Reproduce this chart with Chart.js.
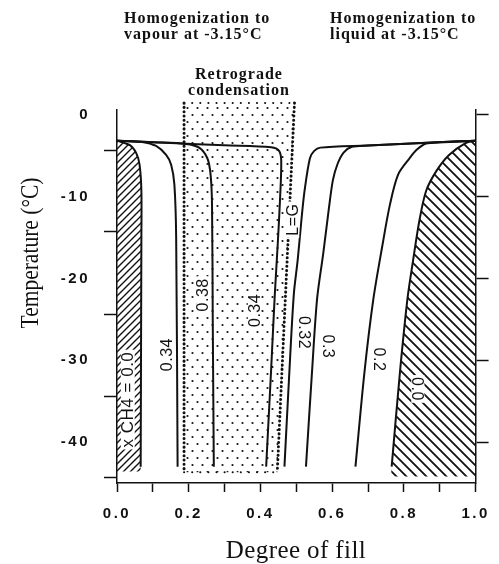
<!DOCTYPE html>
<html>
<head>
<meta charset="utf-8">
<script src="https://cdn.jsdelivr.net/npm/chart.js@4.4.1/dist/chart.umd.min.js"></script>
<style>
  html, body { margin: 0; padding: 0; background: #fff; }
</style>
</head>
<body>
<canvas id="fill" width="499" height="564"></canvas>
<script>
// isopleths of x CH4: [degree of fill, temperature °C]
const isoVap00 = [[0,-3.15],[0.036,-3.7],[0.054,-4.7],[0.063,-6.1],[0.068,-9.3],[0.068,-15],[0.066,-43]];
const isoVap34 = [[0,-3.15],[0.07,-3.3],[0.109,-3.8],[0.137,-4.9],[0.151,-6.1],[0.16,-8.5],[0.165,-15],[0.169,-43]];
const isoRet38 = [[0,-3.15],[0.1,-3.34],[0.192,-3.55],[0.229,-4.0],[0.252,-5.3],[0.261,-7.3],[0.265,-11],[0.267,-25],[0.27,-43]];
const isoRet34 = [[0,-3.15],[0.15,-3.43],[0.3,-3.72],[0.43,-3.96],[0.452,-4.4],[0.458,-5.6],[0.455,-10],[0.448,-16],[0.44,-22],[0.43,-31],[0.416,-43]];
const isoLiq32 = [[1,-3.15],[0.85,-3.44],[0.7,-3.74],[0.567,-4.0],[0.55,-4.4],[0.538,-5.3],[0.523,-9.3],[0.514,-13],[0.504,-17.7],[0.493,-22],[0.48,-32],[0.467,-43]];
const isoLiq30 = [[1,-3.15],[0.85,-3.44],[0.7,-3.74],[0.655,-3.9],[0.632,-4.6],[0.615,-6],[0.602,-8],[0.591,-11.4],[0.575,-17],[0.558,-22.5],[0.543,-32],[0.527,-43]];
const isoLiq20 = [[1,-3.15],[0.9,-3.35],[0.862,-3.5],[0.835,-4.3],[0.816,-5.3],[0.784,-7.3],[0.761,-11],[0.74,-16],[0.715,-22.5],[0.69,-31.5],[0.665,-43]];
const isoLiq00 = [[1,-3.15],[0.972,-3.45],[0.926,-4.9],[0.89,-6.9],[0.862,-9.3],[0.843,-13],[0.825,-18],[0.81,-22.5],[0.789,-31.5],[0.766,-43]];

// retrograde condensation field and the L=G boundary
const retroLeft = [[0.187,1.45],[0.187,-43.7]];
const retroRight = [[0.495,1.45],[0.47,-22],[0.447,-43.7]];
const retroTop = [[0.187,1.45],[0.495,1.45]];
const retroBottom = [[0.187,-43.7],[0.447,-43.7]];

// closing corners of the two x CH4 = 0.0 fields
const vapourFieldFoot = [[0.066,-43.6],[0,-43.6]];
const liquidFieldFoot = [[0.764,-44.2],[1,-44.2]];

const fillTicks = [0,0.1,0.2,0.3,0.4,0.5,0.6,0.7,0.8,0.9,1.0];
const tempTicks = [0,-10,-20,-30,-40];
const tempMarks = [-4.3,-14.3,-24.4,-34.4,-44.3];

const curveNotes = [
  {text: 'x CH4 = 0.0', x: 0.030, t: -34.8, turn: -1, size: 17},
  {text: '0.34', x: 0.139, t: -29.3, turn: -1, size: 16},
  {text: '0.38', x: 0.240, t: -22.0, turn: -1, size: 16},
  {text: '0.34', x: 0.383, t: -23.9, turn: -1, size: 16},
  {text: 'L=G', x: 0.490, t: -12.8, turn: -1, size: 16},
  {text: '0.32', x: 0.522, t: -26.6, turn: 1, size: 16},
  {text: '0.3', x: 0.589, t: -28.3, turn: 1, size: 16},
  {text: '0.2', x: 0.732, t: -29.9, turn: 1, size: 16},
  {text: '0.0', x: 0.839, t: -33.5, turn: 1, size: 16}
];

const INK = '#111';

function tile(w, h, paint) {
  const c = document.createElement('canvas');
  c.width = w; c.height = h;
  const g = c.getContext('2d');
  g.strokeStyle = INK; g.fillStyle = INK;
  paint(g, w, h);
  return c;
}

const hatchUp = tile(7, 7, (g, s) => {
  g.lineWidth = 1.4;
  g.beginPath();
  g.moveTo(-1, s + 1); g.lineTo(s + 1, -1);
  g.moveTo(-1, 1); g.lineTo(1, -1);
  g.moveTo(s - 1, s + 1); g.lineTo(s + 1, s - 1);
  g.stroke();
});
const hatchDown = tile(10, 10, (g, s) => {
  g.lineWidth = 1.8;
  g.beginPath();
  g.moveTo(-1, -1); g.lineTo(s + 1, s + 1);
  g.moveTo(s - 1, -1); g.lineTo(s + 1, 1);
  g.moveTo(-1, s - 1); g.lineTo(1, s + 1);
  g.stroke();
});
const stipple = tile(10, 14, g => {
  [[2.5, 3], [7.5, 10]].forEach(([x, y]) => {
    g.beginPath(); g.arc(x, y, 1.1, 0, Math.PI * 2); g.fill();
  });
});

const pts = arr => arr.map(([x, y]) => ({x, y}));

function curve(data) {
  return {
    data: pts(data), showLine: true, borderColor: INK, borderWidth: 2,
    pointRadius: 0, tension: 0.3, fill: false, clip: false
  };
}
function dotted(data, width, gap) {
  return {
    data: pts(data), showLine: true, borderColor: INK, borderWidth: width,
    borderDash: [0.1, gap], borderCapStyle: 'round', pointRadius: 0,
    tension: 0, fill: false, clip: false
  };
}

// draws a closed region along a curve dataset and back through extra corners
function curveRegion(chart, index, foot, pattern) {
  const {ctx, scales: {x, y}} = chart;
  const line = chart.getDatasetMeta(index).dataset;
  line.updateControlPoints(chart.chartArea, 'x');
  ctx.save();
  ctx.beginPath();
  line.path(ctx);
  foot.forEach(([fx, ft]) => ctx.lineTo(x.getPixelForValue(fx), y.getPixelForValue(ft)));
  ctx.closePath();
  ctx.fillStyle = ctx.createPattern(pattern, 'repeat');
  ctx.fill();
  ctx.restore();
}

function polyRegion(chart, poly, pattern) {
  const {ctx, scales: {x, y}} = chart;
  ctx.save();
  ctx.beginPath();
  poly.forEach(([px, pt], i) => {
    const a = x.getPixelForValue(px), b = y.getPixelForValue(pt);
    if (i) ctx.lineTo(a, b); else ctx.moveTo(a, b);
  });
  ctx.closePath();
  ctx.fillStyle = ctx.createPattern(pattern, 'repeat');
  ctx.fill();
  ctx.restore();
}

function textLine(ctx, str, x, y, font, spacing, align) {
  ctx.font = font;
  ctx.letterSpacing = spacing + 'px';
  ctx.textAlign = align || 'left';
  ctx.textBaseline = 'middle';
  ctx.fillText(str, x, y);
}

const sketch = {
  id: 'sketch',
  beforeDraw(chart) {
    chart.ctx.letterSpacing = '2.5px';
  },
  beforeDatasetsDraw(chart) {
    chart.ctx.letterSpacing = '0px';
    curveRegion(chart, 0, vapourFieldFoot, hatchUp);
    curveRegion(chart, 7, liquidFieldFoot, hatchDown);
    polyRegion(chart, retroLeft.concat(retroRight.slice().reverse()), stipple);
  },
  afterDatasetsDraw(chart) {
    const {ctx, scales: {x, y}} = chart;
    curveNotes.forEach(n => {
      ctx.save();
      ctx.translate(x.getPixelForValue(n.x), y.getPixelForValue(n.t));
      ctx.rotate(n.turn * Math.PI / 2);
      ctx.font = n.size + 'px "Liberation Sans", Arial, sans-serif';
      ctx.letterSpacing = '0.5px';
      const w = ctx.measureText(n.text).width;
      const h = n.size * 0.82;
      ctx.fillStyle = '#fff';
      ctx.fillRect(-w / 2 - 2, -h / 2, w + 4, h);
      ctx.fillStyle = INK;
      ctx.textAlign = 'center';
      ctx.textBaseline = 'middle';
      ctx.fillText(n.text, 0, 1);
      ctx.restore();
    });
  },
  afterDraw(chart) {
    const ctx = chart.ctx;
    ctx.save();
    ctx.fillStyle = INK;
    const head = 'bold 16px "Liberation Serif", "Times New Roman", serif';
    textLine(ctx, 'Homogenization to', 124, 19, head, 1);
    textLine(ctx, 'vapour at -3.15°C', 124, 35, head, 1);
    textLine(ctx, 'Homogenization to', 330, 19, head, 1);
    textLine(ctx, 'liquid at -3.15°C', 330, 35, head, 1);
    textLine(ctx, 'Retrograde', 239, 75, head, 1, 'center');
    textLine(ctx, 'condensation', 239, 91, head, 1, 'center');

    const serif = '25px "Liberation Serif", "Times New Roman", serif';
    textLine(ctx, 'Degree of fill', 296, 551, serif, 0.4, 'center');

    ctx.save();
    ctx.translate(31, 253);
    ctx.rotate(-Math.PI / 2);
    ctx.scale(0.86, 1);
    textLine(ctx, 'Temperature (°C)', 0, 0, serif, 0, 'center');
    ctx.restore();

    ctx.restore();
    ctx.letterSpacing = '0px';
  }
};

const tickFont = {family: '"Liberation Sans", Arial, sans-serif', size: 15, weight: 'bold'};
const setTicks = values => scale => { scale.ticks = values.map(v => ({value: v})); };

new Chart(document.getElementById('fill'), {
  type: 'scatter',
  data: {
    datasets: [
      curve(isoVap00), curve(isoVap34), curve(isoRet38), curve(isoRet34),
      curve(isoLiq32), curve(isoLiq30), curve(isoLiq20), curve(isoLiq00),
      dotted(retroLeft, 3, 4.2), dotted(retroRight, 3, 4.2),
      dotted(retroTop, 2, 8), dotted(retroBottom, 2, 8)
    ]
  },
  options: {
    responsive: false,
    devicePixelRatio: 1,
    animation: false,
    events: [],
    layout: {padding: {top: 110, left: 0, right: 0, bottom: 0}},
    plugins: {legend: {display: false}, tooltip: {enabled: false}},
    scales: {
      x: {
        type: 'linear', position: 'bottom', min: 0, max: 1,
        afterBuildTicks: setTicks(fillTicks),
        afterFit: s => { s.height = 81; },
        ticks: {
          autoSkip: false, maxRotation: 0, padding: 13, color: INK, font: tickFont,
          callback: v => Math.round(v * 10) % 2 ? '' : v.toFixed(1)
        },
        grid: {drawOnChartArea: false, tickLength: 9, tickColor: INK, tickWidth: 1.5},
        border: {display: true, color: INK, width: 1.5}
      },
      y: {
        type: 'linear', position: 'left', weight: 1, min: -45, max: 0.6,
        afterBuildTicks: setTicks(tempTicks),
        afterFit: s => { s.width = 104; },
        ticks: {padding: 6, color: INK, font: tickFont, callback: v => String(v)},
        grid: {display: false},
        border: {display: false}
      },
      yMarks: {
        type: 'linear', position: 'left', weight: 0, min: -45, max: 0.6,
        afterBuildTicks: setTicks(tempMarks),
        afterFit: s => { s.width = 13; },
        ticks: {display: false},
        grid: {drawOnChartArea: false, tickLength: 13, tickColor: INK, tickWidth: 1.5},
        border: {display: true, color: INK, width: 1.5}
      },
      yRight: {
        type: 'linear', position: 'right', min: -45, max: 0.6,
        afterBuildTicks: setTicks(tempTicks),
        afterFit: s => { s.width = 19; },
        ticks: {display: false},
        grid: {drawOnChartArea: false, tickLength: 13, tickColor: INK, tickWidth: 1.5},
        border: {display: true, color: INK, width: 1.5}
      }
    }
  },
  plugins: [sketch]
});
</script>
</body>
</html>
